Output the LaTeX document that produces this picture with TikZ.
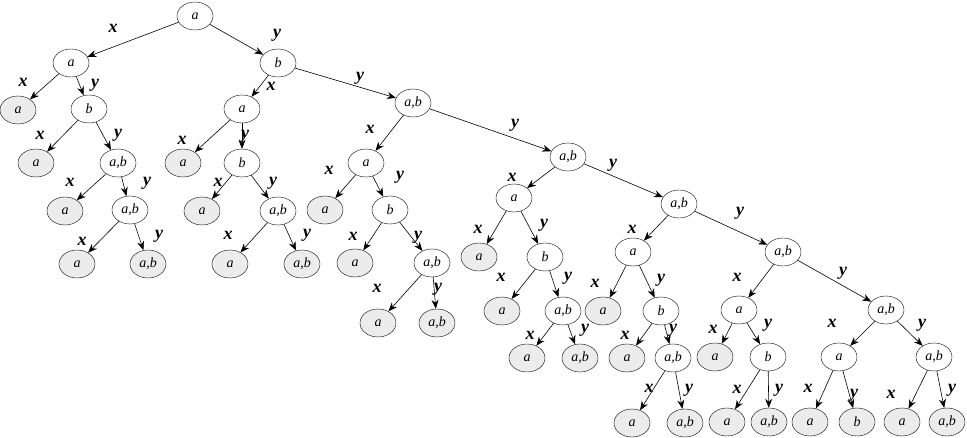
\documentclass[tikz,border=0pt]{standalone}
\usepackage{fontspec}
\setmainfont{Liberation Serif}
\usetikzlibrary{shapes.geometric, arrows.meta}

\begin{document}
\begin{tikzpicture}[x=1pt, y=-1pt,
    st/.style={draw, ellipse, minimum width=36pt, minimum height=28pt, inner sep=0pt, font=\fontsize{14}{14}\selectfont\itshape},
    acc/.style={st, fill=gray!15},
    edge/.style={-{Stealth[length=9pt, width=7pt]}, line width=0.6pt},
    lbl/.style={font=\fontsize{18}{18}\selectfont\bfseries\itshape}]
    \useasboundingbox (0,0) rectangle (967,438);

    % spine
    \node[st] (r) at (195,16) {a};
    \node[st] (s1) at (278,63) {b};
    \node[st] (s2) at (413,103) {a,b};
    \node[st] (s3) at (568,157) {a,b};
    \node[st] (s4) at (679,204) {a,b};
    \node[st] (s5) at (783,252) {a,b};
    \node[st] (s6) at (886,310) {a,b};

    % left subtree
    \node[st] (n1) at (71,63) {a};
    \node[acc] (g1) at (18,110) {a};
    \node[st] (n2) at (89,109) {b};
    \node[acc] (g2) at (36,163) {a};
    \node[st] (n3) at (118,163) {a,b};
    \node[acc] (g3) at (65,211) {a};
    \node[st] (n4) at (130,210) {a,b};
    \node[acc] (g4) at (77,264) {a};
    \node[acc] (g5) at (148,264) {a,b};

    % under s1
    \node[st] (m1) at (242,109) {a};
    \node[acc] (h1) at (183,163) {a};
    \node[st] (m2) at (242,163) {b};
    \node[acc] (h2) at (202,211) {a};
    \node[st] (m3) at (278,211) {a,b};
    \node[acc] (h3) at (230,264) {a};
    \node[acc] (h4) at (302,264) {a,b};

    % under s2
    \node[st] (p1) at (366,163) {a};
    \node[acc] (k1) at (325,210) {a};
    \node[st] (p2) at (390,210) {b};
    \node[acc] (k2) at (355,263) {a};
    \node[st] (p3) at (432,263) {a,b};
    \node[acc] (k3) at (378,323) {a};
    \node[acc] (k4) at (437,323) {a,b};

    % under s3
    \node[st] (q1) at (514,198) {a};
    \node[acc] (j1) at (479,257) {a};
    \node[st] (q2) at (545,257) {b};
    \node[acc] (j2) at (502,311) {a};
    \node[st] (q3) at (563,311) {a,b};
    \node[acc] (j3) at (527,358) {a};
    \node[acc] (j4) at (580,358) {a,b};

    % under s4
    \node[st] (t1) at (633,252) {a};
    \node[acc] (i1) at (603,311) {a};
    \node[st] (t2) at (661,311) {b};
    \node[acc] (i2) at (627,358) {a};
    \node[st] (t3) at (673,358) {a,b};
    \node[acc] (i3) at (632,423) {a};
    \node[acc] (i4) at (685,423) {a,b};

    % under s5
    \node[st] (u1) at (739,310) {a};
    \node[acc] (v1) at (715,357) {a};
    \node[st] (u2) at (768,357) {b};
    \node[acc] (v2) at (727,422) {a};
    \node[acc] (v3) at (769,422) {a,b};

    % under s6
    \node[st] (w1) at (839,357) {a};
    \node[acc] (z1) at (810,422) {a};
    \node[acc] (z2) at (857,422) {b};
    \node[st] (w2) at (934,357) {a,b};
    \node[acc] (z3) at (902,422) {a};
    \node[acc] (z4) at (947,422) {a,b};

    % transitions
    \draw[edge] (r) -- (n1) node[lbl] at (113,28) {x};
    \draw[edge] (r) -- (s1) node[lbl] at (277,35) {y};
    \draw[edge] (n1) -- (g1) node[lbl] at (23,82) {x};
    \draw[edge] (n1) -- (n2) node[lbl] at (95,85) {y};
    \draw[edge] (n2) -- (g2) node[lbl] at (40,135) {x};
    \draw[edge] (n2) -- (n3) node[lbl] at (118,135) {y};
    \draw[edge] (n3) -- (g3) node[lbl] at (70,182) {x};
    \draw[edge] (n3) -- (n4) node[lbl] at (147,183) {y};
    \draw[edge] (n4) -- (g4) node[lbl] at (82,241) {x};
    \draw[edge] (n4) -- (g5) node[lbl] at (159,236) {y};

    \draw[edge] (s1) -- (m1) node[lbl] at (271,86) {x};
    \draw[edge] (s1) -- (s2) node[lbl] at (360,78) {y};
    \draw[edge] (m1) -- (h1) node[lbl] at (182,140) {x};
    \draw[edge] (m1) -- (m2) node[lbl] at (245,136) {y};
    \draw[edge] (m2) -- (h2) node[lbl] at (218,182) {x};
    \draw[edge] (m2) -- (m3) node[lbl] at (273,183) {y};
    \draw[edge] (m3) -- (h3) node[lbl] at (228,235) {x};
    \draw[edge] (m3) -- (h4) node[lbl] at (307,235) {y};

    \draw[edge] (s2) -- (p1) node[lbl] at (370,129) {x};
    \draw[edge] (s2) -- (s3) node[lbl] at (515,125) {y};
    \draw[edge] (p1) -- (k1) node[lbl] at (329,170) {x};
    \draw[edge] (p1) -- (p2) node[lbl] at (400,177) {y};
    \draw[edge] (p2) -- (k2) node[lbl] at (353,236) {x};
    \draw[edge] (p2) -- (p3) node[lbl] at (418,237) {y};
    \draw[edge] (p3) -- (k3) node[lbl] at (377,288) {x};
    \draw[edge] (p3) -- (k4) node[lbl] at (438,289) {y};

    \draw[edge] (s3) -- (q1) node[lbl] at (512,177) {x};
    \draw[edge] (s3) -- (s4) node[lbl] at (613,165) {y};
    \draw[edge] (q1) -- (j1) node[lbl] at (478,229) {x};
    \draw[edge] (q1) -- (q2) node[lbl] at (544,225) {y};
    \draw[edge] (q2) -- (j2) node[lbl] at (501,277) {x};
    \draw[edge] (q2) -- (q3) node[lbl] at (568,278) {y};
    \draw[edge] (q3) -- (j3) node[lbl] at (530,335) {x};
    \draw[edge] (q3) -- (j4) node[lbl] at (585,330) {y};

    \draw[edge] (s4) -- (t1) node[lbl] at (632,229) {x};
    \draw[edge] (s4) -- (s5) node[lbl] at (740,213) {y};
    \draw[edge] (t1) -- (i1) node[lbl] at (595,283) {x};
    \draw[edge] (t1) -- (t2) node[lbl] at (661,280) {y};
    \draw[edge] (t2) -- (i2) node[lbl] at (625,335) {x};
    \draw[edge] (t2) -- (t3) node[lbl] at (673,330) {y};
    \draw[edge] (t3) -- (i3) node[lbl] at (649,388) {x};
    \draw[edge] (t3) -- (i4) node[lbl] at (689,390) {y};

    \draw[edge] (s5) -- (u1) node[lbl] at (737,277) {x};
    \draw[edge] (s5) -- (s6) node[lbl] at (843,273) {y};
    \draw[edge] (u1) -- (v1) node[lbl] at (713,329) {x};
    \draw[edge] (u1) -- (u2) node[lbl] at (768,325) {y};
    \draw[edge] (u2) -- (v2) node[lbl] at (737,389) {x};
    \draw[edge] (u2) -- (v3) node[lbl] at (779,390) {y};

    \draw[edge] (s6) -- (w1) node[lbl] at (832,323) {x};
    \draw[edge] (s6) -- (w2) node[lbl] at (922,325) {y};
    \draw[edge] (w1) -- (z1) node[lbl] at (808,388) {x};
    \draw[edge] (w1) -- (z2) node[lbl] at (854,395) {y};
    \draw[edge] (w2) -- (z3) node[lbl] at (891,394) {x};
    \draw[edge] (w2) -- (z4) node[lbl] at (952,390) {y};
\end{tikzpicture}
\end{document}
